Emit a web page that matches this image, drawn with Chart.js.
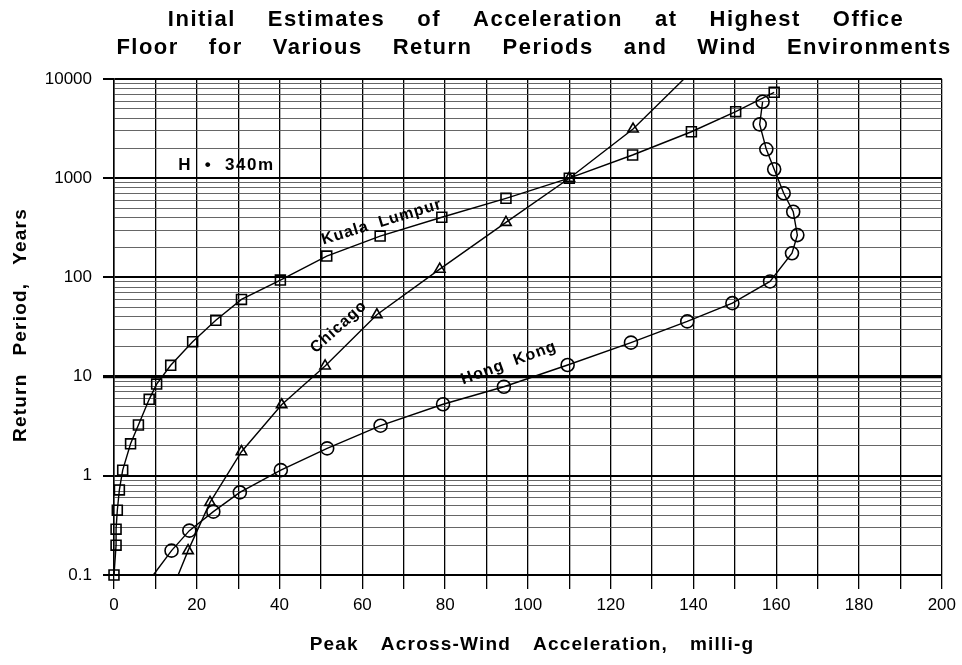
<!DOCTYPE html>
<html>
<head>
<meta charset="utf-8">
<script src="https://cdn.jsdelivr.net/npm/chart.js@4.4.0/dist/chart.umd.min.js"></script>
<style>
  html, body { margin: 0; padding: 0; background: #fff; }
  #wrap { width: 962px; height: 665px; }
</style>
</head>
<body>
<div id="wrap"><canvas id="chart1" width="962" height="665"></canvas></div>
<script>
// values: x = peak across-wind accel (milli-g), y = return period (years)
const klAcc   = [0, 0.5, 0.5, 0.8, 1.3, 2.1, 4.0, 5.9, 8.5, 10.3, 13.7, 19.0, 24.6, 30.8, 40.2, 51.4, 64.3, 79.2, 94.7, 110, 125.3, 139.5, 150.2, 159.5];
const klYears = [0.1, 0.2, 0.29, 0.45, 0.72, 1.14, 2.1, 3.25, 5.9, 8.4, 13, 22.5, 37, 60, 94, 164, 261, 404, 627, 1000, 1714, 2940, 4680, 7340];

const chiAcc   = [15.5, 17.9, 23.2, 30.8, 40.5, 51.0, 63.5, 78.7, 94.7, 110, 125.4, 137.7];
const chiYears = [0.1, 0.176, 0.54, 1.75, 5.2, 12.8, 42, 121, 359, 1000, 3130, 10000];

const hkAcc   = [9.5, 13.9, 18.2, 24.0, 30.4, 40.3, 51.5, 64.4, 79.5, 94.2, 109.6, 124.9, 138.5, 149.4, 158.5, 163.8, 165.1, 164.1, 161.8, 159.5, 157.6, 156.0, 156.7];
const hkYears = [0.1, 0.176, 0.28, 0.435, 0.68, 1.14, 1.89, 3.2, 5.26, 7.9, 13.1, 22, 36, 55, 91, 175, 267, 459, 705, 1230, 1955, 3490, 5900];

const xLabels = [0, 20, 40, 60, 80, 100, 120, 140, 160, 180, 200];
const yLabels = [0.1, 1, 10, 100, 1000, 10000];

// log paper lines: 1..9 in every decade
const yGrid = [];
yLabels.forEach(function (d, i) {
  if (i === yLabels.length - 1) { yGrid.push(d); return; }
  for (let k = 1; k <= 9; k++) yGrid.push(d * k);
});

function isDecade(v) {
  const l = Math.log10(v);
  return Math.abs(l - Math.round(l)) < 1e-6;
}

function pts(xs, ys) {
  return xs.map(function (x, i) { return { x: x, y: ys[i] }; });
}
// the ends of Chicago / Hong Kong are only line run-outs, no marker
function ends(xs, r, first, last) {
  return xs.map(function (_, i) {
    if ((first && i === 0) || (last && i === xs.length - 1)) return 0;
    return r;
  });
}

const FONT = '"Liberation Sans", Arial, sans-serif';

const notes = [
  { text: 'H  \u2022  340m', x: 15.5, y: 1360, rot: 0, align: 'left' },
  { text: 'Kuala  Lumpur', x: 64.7, y: 361, rot: -17, align: 'center' },
  { text: 'Chicago', x: 54.3, y: 31.6, rot: -42, align: 'center' },
  { text: 'Hong  Kong', x: 95.4, y: 13.7, rot: -20, align: 'center' }
];

// words centred on cx with a fixed wide gap (old typewriter look)
function gapText(ctx, text, cx, y, gap) {
  const words = text.split(' ');
  const w = words.map(function (s) { return ctx.measureText(s).width; });
  const tot = w.reduce(function (a, b) { return a + b; }, 0) + gap * (words.length - 1);
  let x = cx - tot / 2;
  ctx.textAlign = 'left';
  words.forEach(function (s, i) { ctx.fillText(s, x, y); x += w[i] + gap; });
}

const textPlugin = {
  id: 'textPlugin',
  afterDatasetsDraw: function (chart) {
    const ctx = chart.ctx;
    const xs = chart.scales.x, ys = chart.scales.y;
    ctx.save();
    ctx.fillStyle = '#000';
    ctx.textBaseline = 'alphabetic';

    // chart title
    ctx.letterSpacing = '1.5px';
    ctx.font = 'bold 22px ' + FONT;
    gapText(ctx, 'Initial Estimates of Acceleration at Highest Office', 536, 26, 32);
    gapText(ctx, 'Floor for Various Return Periods and Wind Environments', 534, 54, 30);

    // axis titles
    ctx.letterSpacing = '1.2px';
    ctx.font = 'bold 19px ' + FONT;
    gapText(ctx, 'Peak Across-Wind Acceleration, milli-g', 532, 650, 22);
    ctx.save();
    ctx.translate(26, 325);
    ctx.rotate(-Math.PI / 2);
    gapText(ctx, 'Return Period, Years', 0, 0, 18);
    ctx.restore();

    // curve labels
    ctx.textBaseline = 'middle';
    ctx.letterSpacing = '1px';
    notes.forEach(function (n) {
      ctx.save();
      ctx.translate(xs.getPixelForValue(n.x), ys.getPixelForValue(n.y));
      ctx.rotate(n.rot * Math.PI / 180);
      ctx.textAlign = n.align;
      ctx.font = 'bold 16px ' + FONT;
      if (n.rot === 0) { ctx.font = 'bold 17px ' + FONT; ctx.letterSpacing = '1.6px'; }
      ctx.fillText(n.text, 0, 0);
      ctx.letterSpacing = '1px';
      ctx.restore();
    });
    ctx.restore();
  }
};

const lineStyle = {
  borderColor: '#000',
  backgroundColor: 'transparent',
  pointBorderColor: '#000',
  pointBackgroundColor: 'transparent',
  pointBorderWidth: 1.6,
  borderWidth: 1.4,
  showLine: true,
  tension: 0,
  clip: false
};

const data = {
  datasets: [
    Object.assign({
      label: 'Kuala Lumpur',
      data: pts(klAcc, klYears),
      pointStyle: 'rect',
      pointRadius: 7
    }, lineStyle),
    Object.assign({
      label: 'Chicago',
      data: pts(chiAcc, chiYears),
      pointStyle: 'triangle',
      pointRadius: ends(chiAcc, 6, true, true)
    }, lineStyle),
    Object.assign({
      label: 'Hong Kong',
      data: pts(hkAcc, hkYears),
      pointStyle: 'circle',
      pointRadius: ends(hkAcc, 6.5, true, false)
    }, lineStyle)
  ]
};

const config = {
  type: 'scatter',
  data: data,
  plugins: [textPlugin],
  options: {
    responsive: false,
    animation: false,
    layout: { padding: { top: 79, right: 19, left: 0, bottom: 0 } },
    plugins: {
      legend: { display: false },
      tooltip: { enabled: false },
      title: { display: false }
    },
    scales: {
      x: {
        type: 'linear',
        min: 0,
        max: 200,
        afterFit: function (s) { s.height = 90; },
        ticks: {
          stepSize: 10,
          autoSkip: false,
          maxRotation: 0,
          padding: 6,
          color: '#000',
          font: { family: FONT, size: 17 },
          callback: function (v) { return xLabels.indexOf(v) >= 0 ? String(v) : ''; }
        },
        grid: {
          color: '#000',
          lineWidth: 1.3,
          tickLength: 14,
          tickColor: '#000'
        },
        border: { color: '#000', width: 1.5 },
        title: { display: false }
      },
      y: {
        type: 'logarithmic',
        min: 0.1,
        max: 10000,
        afterFit: function (s) { s.width = 114; },
        afterBuildTicks: function (s) {
          s.ticks = yGrid.map(function (v) { return { value: v, major: isDecade(v) }; });
        },
        ticks: {
          autoSkip: false,
          padding: 11,
          color: '#000',
          font: { family: FONT, size: 17 },
          callback: function (v) { return isDecade(v) ? String(+v.toPrecision(6)) : ''; }
        },
        grid: {
          color: function (c) { return c.tick && isDecade(c.tick.value) ? '#000' : '#555'; },
          lineWidth: function (c) {
            if (!c.tick) return 1;
            if (Math.abs(c.tick.value - 10) < 1e-6) return 3.2;
            return isDecade(c.tick.value) ? 2 : 0.9;
          },
          tickLength: 11,
          tickColor: function (c) { return c.tick && isDecade(c.tick.value) ? '#000' : 'rgba(0,0,0,0)'; }
        },
        border: { color: '#000', width: 1.5 },
        title: { display: false }
      }
    }
  }
};

const myChart = new Chart(document.getElementById('chart1'), config);
</script>
</body>
</html>
